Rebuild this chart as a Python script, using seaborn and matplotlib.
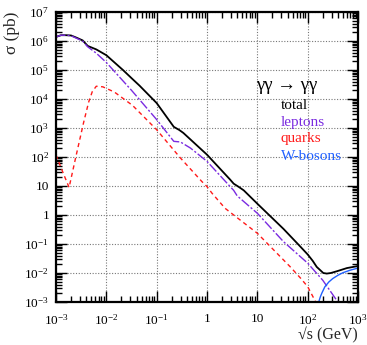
import numpy as np
import pandas as pd
import matplotlib
matplotlib.use('Agg')
import matplotlib.pyplot as plt
import matplotlib.ticker as mticker
import seaborn as sns

# log10(sqrt(s)/GeV) and log10(sigma/pb)
total_logx = [-3.0, -2.9, -2.8, -2.7, -2.6, -2.47, -2.37, -2.2, -2.0, -1.67, -1.5, -1.34,
              -1.0, -0.66, -0.55, -0.47, 0.0, 0.46, 0.53, 0.63, 0.73, 1.0, 1.52, 1.86,
              2.0, 2.1, 2.18, 2.31, 2.38, 2.46, 2.58, 2.78, 3.0]
total_logy = [6.14, 6.2, 6.2, 6.19, 6.12, 6.02, 5.83, 5.71, 5.51, 5.0, 4.72, 4.46,
              3.86, 3.04, 2.93, 2.83, 2.08, 1.22, 1.08, 0.97, 0.85, 0.39, -0.48, -1.1,
              -1.36, -1.58, -1.79, -2.0, -2.02, -2.0, -1.94, -1.83, -1.76]

lept_logx = [-3.0, -2.9, -2.8, -2.7, -2.6, -2.47, -2.37, -2.2, -2.0, -1.5, -1.0, -0.66,
             -0.6, -0.53, -0.33, 0.0, 0.46, 0.53, 0.6, 0.66, 1.0, 1.52, 2.0, 2.3, 2.62]
lept_logy = [6.14, 6.2, 6.2, 6.18, 6.1, 6.0, 5.8, 5.58, 5.26, 4.3, 3.29, 2.54,
             2.53, 2.52, 2.31, 1.85, 0.98, 0.85, 0.66, 0.57, 0.06, -0.92, -1.66, -2.25, -3.05]

quark_logx = [-3.0, -2.87, -2.74, -2.6, -2.45, -2.35, -2.28, -2.2, -2.07, -1.84, -1.48,
              -1.0, -0.53, -0.1, 0.0, 0.1, 0.36, 0.53, 1.0, 1.65, 1.86, 2.0, 2.16, 2.2]
quark_logy = [2.07, 1.5, 0.95, 2.05, 3.2, 3.9, 4.25, 4.44, 4.42, 4.24, 3.78,
              2.94, 1.97, 1.15, 0.98, 0.75, 0.23, 0.0, -0.63, -1.78, -2.18, -2.47, -3.0, -3.1]

wbos_logx = [2.21, 2.22, 2.25, 2.28, 2.34, 2.42, 2.5, 2.6, 2.7, 2.85, 3.0]
wbos_logy = [-3.1, -3.0, -2.83, -2.7, -2.48, -2.31, -2.19, -2.08, -1.99, -1.9, -1.83]

x_ticks = [1e-3, 1e-2, 1e-1, 1, 10, 1e2, 1e3]
x_labels = ['10$^{-3}$', '10$^{-2}$', '10$^{-1}$', '1', '10', '10$^{2}$', '10$^{3}$']
y_ticks = [1e-3, 1e-2, 1e-1, 1, 10, 1e2, 1e3, 1e4, 1e5, 1e6, 1e7]
y_labels = ['10$^{-3}$', '10$^{-2}$', '10$^{-1}$', '1', '10', '10$^{2}$', '10$^{3}$',
            '10$^{4}$', '10$^{5}$', '10$^{6}$', '10$^{7}$']

sns.set_style('ticks')
plt.rcParams['font.family'] = ['Liberation Serif', 'DejaVu Serif']
plt.rcParams['mathtext.fontset'] = 'custom'
plt.rcParams['mathtext.rm'] = 'Liberation Serif'
plt.rcParams['mathtext.it'] = 'Liberation Serif:italic'

fig = plt.figure(figsize=(3.67, 3.45), dpi=100)
ax = fig.add_axes([56 / 367, 1 - 302 / 345, 302 / 367, 290 / 345])

curves = [
    (total_logx, total_logy, 'black', '-', 1.3),
    (lept_logx, lept_logy, '#7a2be0', (0, (7, 1.5, 1.5, 1.5)), 1.0),
    (quark_logx, quark_logy, '#ff1a1a', (0, (3, 2.5)), 1.0),
    (wbos_logx, wbos_logy, '#2060ff', '-', 1.0),
]
for lx, ly, col, ls, lw in curves:
    df = pd.DataFrame({'x': 10 ** np.array(lx), 'y': 10 ** np.array(ly)})
    sns.lineplot(data=df, x='x', y='y', ax=ax, color=col, linestyle=ls, linewidth=lw,
                 estimator=None, sort=False)

ax.set_xscale('log')
ax.set_yscale('log')
ax.set_xlim(1e-3, 1e3)
ax.set_ylim(1e-3, 1e7)

ax.xaxis.set_major_locator(mticker.FixedLocator(x_ticks))
ax.xaxis.set_major_formatter(mticker.FixedFormatter(x_labels))
ax.yaxis.set_major_locator(mticker.FixedLocator(y_ticks))
ax.yaxis.set_major_formatter(mticker.FixedFormatter(y_labels))
ax.xaxis.set_minor_locator(mticker.LogLocator(base=10, subs=np.arange(2, 10), numticks=20))
ax.yaxis.set_minor_locator(mticker.LogLocator(base=10, subs=np.arange(2, 10), numticks=20))
ax.xaxis.set_minor_formatter(mticker.NullFormatter())
ax.yaxis.set_minor_formatter(mticker.NullFormatter())

ax.tick_params(which='both', direction='in', top=True, right=True, labelsize=9.5, width=1.0,
               colors='black')
ax.tick_params(which='major', length=8)
ax.tick_params(axis='y', which='major', pad=5)
ax.tick_params(axis='x', which='major', pad=8)
ax.tick_params(which='minor', length=4)
for sp in ax.spines.values():
    sp.set_linewidth(1.6)
    sp.set_color('black')

ax.grid(True, which='major', linestyle=(0, (1, 1.5)), color='#777777', linewidth=0.8)

ax.set_xlabel('√s (GeV)', loc='right', fontsize=11.5)
ax.xaxis.set_label_coords(1.0, -0.086)
ax.set_ylabel('σ (pb)', loc='top', fontsize=12.5)
ax.yaxis.set_label_coords(-0.12, 1.0)

ax.text(0.765, 0.748, 'γγ → γγ', transform=ax.transAxes, fontsize=13.5,
        ha='center', va='center', color='black')
labels = [('total', 'black', 0.666), ('leptons', '#7a2be0', 0.607),
          ('quarks', '#ff1a1a', 0.552), ('W-bosons', '#2060ff', 0.490)]
for txt, col, yy in labels:
    ax.text(0.745, yy, txt, transform=ax.transAxes, fontsize=11, color=col,
            ha='left', va='baseline')

fig.savefig('out.png', dpi=100)
